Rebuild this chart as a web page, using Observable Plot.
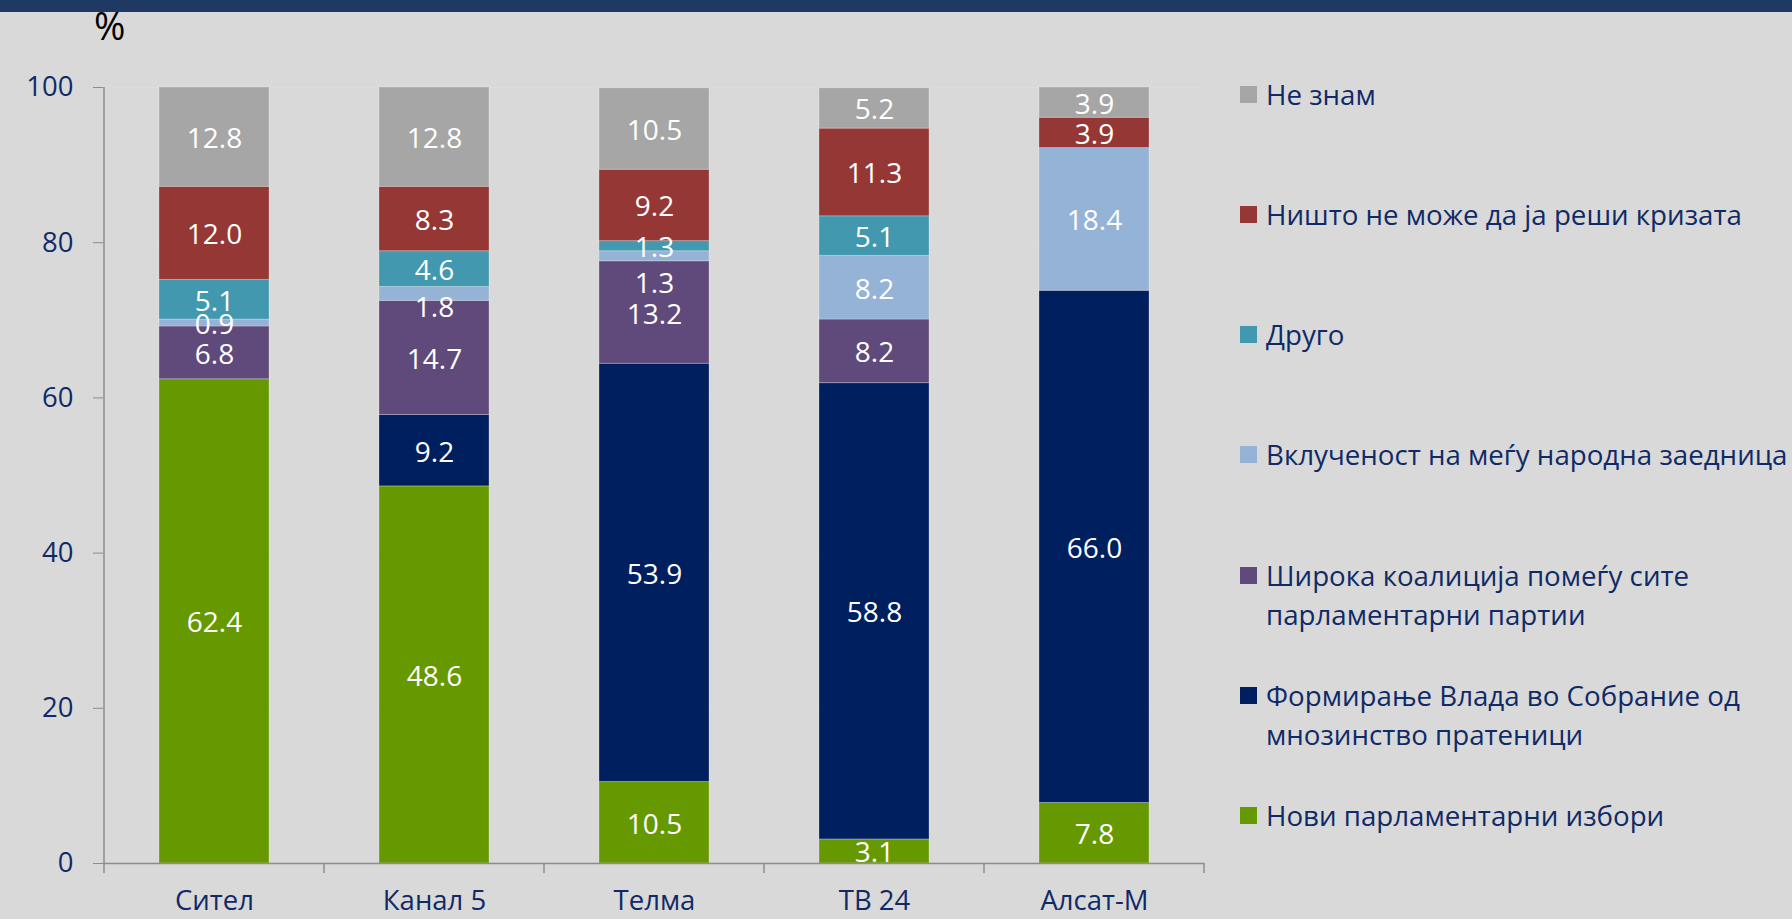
<!DOCTYPE html>
<html>
<head>
<meta charset="utf-8">
<script src="https://cdn.jsdelivr.net/npm/d3@7"></script>
<script src="https://cdn.jsdelivr.net/npm/@observablehq/plot@0.6"></script>
<style>
  html, body { margin: 0; padding: 0; background: #d9d9d9; }
  #page { position: relative; width: 1792px; height: 919px; overflow: hidden; background: #d9d9d9; font-family: "Open Sans", sans-serif; }
  #topbar { position: absolute; left: 0; top: 0; width: 1792px; height: 12px; background: #203864; }
  #pct { position: absolute; left: 94px; top: 6px; font-size: 38px; line-height: 1; color: #000; }
  #chart { position: absolute; left: 0; top: 0; }
  #legend { position: absolute; left: 1240px; top: 0; }
  .item { position: absolute; left: 0; white-space: nowrap; font-size: 27.7px; line-height: 39px; color: #0f2a66; }
  .sw { position: absolute; left: 0; top: 11px; width: 17px; height: 17px; }
  .lbl { position: absolute; left: 26px; top: 0; }
</style>
</head>
<body>
<div id="page">
  <div id="chart"></div>
  <div id="topbar"></div>
  <div id="pct">%</div>
  <div id="legend"></div>
</div>
<script>
// ---- data ----
const categories = ["Сител", "Канал 5", "Телма", "ТВ 24", "Алсат-М"];
const series = [
  "Нови парламентарни избори",
  "Формирање Влада во Собрание од мнозинство пратеници",
  "Широка коалиција помеѓу сите парламентарни партии",
  "Вклученост на меѓу народна заедница",
  "Друго",
  "Ништо не може да ја реши кризата",
  "Не знам"
];
const noviIzbori   = [62.4, 48.6, 10.5, 3.1, 7.8];
const formiranje   = [0, 9.2, 53.9, 58.8, 66.0];
const shirokaKoal  = [6.8, 14.7, 13.2, 8.2, 0];
const vklucenost   = [0.9, 1.8, 1.3, 8.2, 18.4];
const drugo        = [5.1, 4.6, 1.3, 5.1, 0];
const nishto       = [12.0, 8.3, 9.2, 11.3, 3.9];
const neZnam       = [12.8, 12.8, 10.5, 5.2, 3.9];
const yTicks = [0, 20, 40, 60, 80, 100];
const legendLines = [
  ["Не знам"],
  ["Ништо не може да ја реши кризата"],
  ["Друго"],
  ["Вклученост на меѓу народна заедница"],
  ["Широка коалиција помеѓу сите", "парламентарни партии"],
  ["Формирање Влада во Собрание од", "мнозинство пратеници"],
  ["Нови парламентарни избори"]
];
const legendSeries = [6, 5, 4, 3, 2, 1, 0];

// ---- styles ----
const colors = ["#669900", "#001f5f", "#604a7b", "#95b3d7", "#4198af", "#953735", "#a6a6a6"];
const navy = "#0f2a66";
const axisGray = "#8c8c8c";

const valueLists = [noviIzbori, formiranje, shirokaKoal, vklucenost, drugo, nishto, neZnam];
const data = [];
categories.forEach((c, ci) => {
  series.forEach((s, si) => data.push({cat: c, series: s, v: valueLists[si][ci]}));
});
const fmt = d3.format(".1f");
// Labels that were manually moved down in the original
const nudgeSmall = d => d.cat === "Канал 5" && d.series === series[3];
const nudgeLarge = d => d.cat === "Телма" && d.series === series[3];
const plain = d => !nudgeSmall(d) && !nudgeLarge(d);

const labelMark = (pred, dy) => Plot.text(data, Plot.stackY({
  x: "cat", y: "v", z: "series", order: series,
  text: d => (d.v > 0 && pred(d)) ? fmt(d.v) : null,
  fill: "white", fontSize: 28, dy
}));

const plot = Plot.plot({
  width: 1230,
  height: 919,
  marginTop: 87,
  marginBottom: 56,
  marginLeft: 103,
  marginRight: 26,
  style: {background: "transparent", fontFamily: "Open Sans, sans-serif", overflow: "visible"},
  x: {domain: categories, paddingInner: 0.5, paddingOuter: 0.25, label: null},
  y: {domain: [0, 100], label: null},
  color: {domain: series, range: colors},
  marks: [
    Plot.gridY(yTicks.filter(t => t > 0), {stroke: "#dfdfdf", strokeOpacity: 0.5}),
    Plot.barY(data, Plot.stackY({
      x: "cat", y: "v", z: "series", fill: "series", order: series,
      filter: d => d.v > 0, stroke: "#ffffff", strokeOpacity: 0.25, strokeWidth: 1
    })),
    labelMark(plain, 2),
    labelMark(nudgeSmall, 14),
    labelMark(nudgeLarge, 28),
    Plot.ruleY([0], {stroke: axisGray, strokeWidth: 1.5}),
    Plot.axisY({ticks: yTicks, tickSize: 10, tickPadding: 20, fontSize: 27.5, stroke: axisGray, fill: navy, label: null, tickFormat: d => String(d)}),
    Plot.axisX({tickSize: 0, tickPadding: 27, fontSize: 27.5, fill: navy, label: null})
  ]
});
document.getElementById("chart").appendChild(plot);

// axis line and category boundary ticks derived from the plot's own scales
const xs = plot.scale("x");
const ys = plot.scale("y");
const svg = d3.select(plot);
const g = svg.append("g").attr("stroke", axisGray).attr("stroke-width", 1.5);
const gap = (xs.step - xs.bandwidth) / 2;
const bounds = categories.map(c => xs.apply(c) - gap);
bounds.push(xs.apply(categories[categories.length - 1]) + xs.bandwidth + gap);
g.append("line").attr("x1", bounds[0]).attr("x2", bounds[0]).attr("y1", ys.apply(0)).attr("y2", ys.apply(100));
bounds.forEach(b => {
  g.append("line").attr("x1", b).attr("x2", b).attr("y1", ys.apply(0)).attr("y2", ys.apply(0) + 10);
});

// legend
const legend = document.getElementById("legend");
legendLines.forEach((lines, i) => {
  const item = document.createElement("div");
  item.className = "item";
  item.style.top = (94 + i * 120.3 - 19.5) + "px";
  const sw = document.createElement("div");
  sw.className = "sw";
  sw.style.background = colors[legendSeries[i]];
  const lbl = document.createElement("div");
  lbl.className = "lbl";
  lbl.innerHTML = lines.join("<br>");
  item.appendChild(sw);
  item.appendChild(lbl);
  legend.appendChild(item);
});
</script>
</body>
</html>
